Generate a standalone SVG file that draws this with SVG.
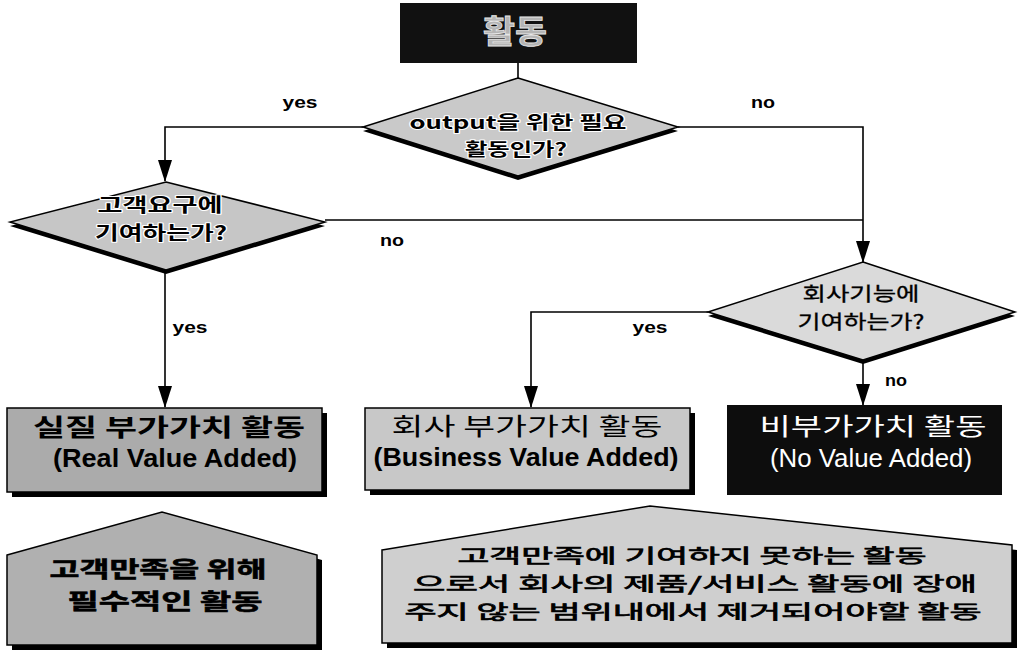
<svg xmlns="http://www.w3.org/2000/svg" width="1020" height="652" viewBox="0 0 1020 652">
<defs>
<style>
.ko{font-family:"Noto Sans CJK KR","Noto Sans",sans-serif;dominant-baseline:central;text-anchor:middle}
.lat{font-family:"Liberation Sans",Arial,sans-serif;text-anchor:middle}
.lbl{font-family:"Liberation Sans",Arial,sans-serif;font-size:17px;font-weight:bold;text-anchor:middle;fill:#000}
.edge{stroke:#000;stroke-width:1.6;fill:none}
.shape{stroke:#000;stroke-width:1.5}
.halo{stroke:#fff;stroke-width:2;paint-order:stroke;stroke-linejoin:round}
</style>
<marker id="arr" markerWidth="22" markerHeight="14" refX="21" refY="7" orient="auto" markerUnits="userSpaceOnUse">
<path d="M0,0 L22,7 L0,14 z" fill="#000"/>
</marker>
</defs>
<rect width="1020" height="652" fill="#fff"/>

<g id="connectors">
<line class="edge" x1="518" y1="63" x2="518" y2="79"/>
<polyline class="edge" points="363,127 165,127 165,181" marker-end="url(#arr)"/>
<polyline class="edge" points="678,127 863,127 863,262" marker-end="url(#arr)"/>
<line class="edge" x1="325" y1="220" x2="863" y2="220"/>
<line class="edge" x1="165" y1="270" x2="165" y2="407" marker-end="url(#arr)"/>
<polyline class="edge" points="708,312 531,312 531,407" marker-end="url(#arr)"/>
<line class="edge" x1="863" y1="360" x2="863" y2="405" marker-end="url(#arr)"/>
<text class="lbl" x="300" y="108" textLength="35" lengthAdjust="spacingAndGlyphs">yes</text>
<text class="lbl" x="763" y="108" textLength="24" lengthAdjust="spacingAndGlyphs">no</text>
<text class="lbl" x="392" y="246" textLength="24" lengthAdjust="spacingAndGlyphs">no</text>
<text class="lbl" x="190" y="333" textLength="35" lengthAdjust="spacingAndGlyphs">yes</text>
<text class="lbl" x="650" y="333" textLength="35" lengthAdjust="spacingAndGlyphs">yes</text>
<text class="lbl" x="896" y="386" textLength="22" lengthAdjust="spacingAndGlyphs">no</text>
</g>

<g id="node-start">
<rect x="400" y="3" width="237" height="60" fill="#111"/>
<text class="ko" x="515" y="29" font-size="32" font-weight="bold" fill="#b4b4b4" stroke="#e6e6e6" stroke-width="0.8" textLength="64" lengthAdjust="spacingAndGlyphs">활동</text>
</g>

<g id="node-q1">
<polygon points="518,82 678,131 518,180 363,131" fill="#000"/>
<polygon class="shape" points="518,78 678,127 518,176 363,127" fill="#c9c9c9"/>
<text class="ko halo" x="518" y="121" font-size="18" font-weight="bold" fill="#000" textLength="217" lengthAdjust="spacingAndGlyphs">output을 위한 필요</text>
<text class="ko halo" x="516" y="148" font-size="18" font-weight="bold" fill="#000" textLength="102" lengthAdjust="spacingAndGlyphs">활동인가?</text>
</g>

<g id="node-q2">
<polygon points="166,186 325,226 166,274 10,226" fill="#000"/>
<polygon class="shape" points="166,182 325,222 166,270 10,222" fill="#c6c6c6"/>
<text class="ko halo" x="160" y="203" font-size="19" font-weight="bold" fill="#000" textLength="125" lengthAdjust="spacingAndGlyphs">고객요구에</text>
<text class="ko halo" x="161" y="231" font-size="19" font-weight="bold" fill="#000" textLength="132" lengthAdjust="spacingAndGlyphs">기여하는가?</text>
</g>

<g id="node-q3">
<polygon points="863,266 1015,316 863,364 708,316" fill="#000"/>
<polygon class="shape" points="863,262 1015,312 863,360 708,312" fill="#dadada"/>
<text class="ko" x="861" y="292" font-size="19" fill="#000" stroke="#000" stroke-width="0.3" textLength="117" lengthAdjust="spacingAndGlyphs">회사기능에</text>
<text class="ko" x="861" y="320" font-size="19" fill="#000" stroke="#000" stroke-width="0.3" textLength="127" lengthAdjust="spacingAndGlyphs">기여하는가?</text>
</g>

<g id="node-real">
<rect x="12" y="413" width="315" height="84" fill="#000"/>
<rect class="shape" x="7" y="408" width="315" height="84" fill="#ababab"/>
<text class="ko" x="169" y="425" font-size="24" font-weight="bold" fill="#000" textLength="272" lengthAdjust="spacingAndGlyphs">실질 부가가치 활동</text>
<text class="lat" x="175" y="467" font-size="26" font-weight="bold" fill="#000" textLength="244" lengthAdjust="spacingAndGlyphs">(Real Value Added)</text>
</g>

<g id="node-business">
<rect x="370" y="413" width="325" height="82" fill="#000"/>
<rect class="shape" x="365" y="408" width="325" height="82" fill="#c8c8c8"/>
<text class="ko" x="527" y="424" font-size="24" fill="#000" textLength="271" lengthAdjust="spacingAndGlyphs">회사 부가가치 활동</text>
<text class="lat" x="526" y="466" font-size="26" font-weight="bold" fill="#000" textLength="305" lengthAdjust="spacingAndGlyphs">(Business Value Added)</text>
</g>

<g id="node-none">
<rect x="727" y="405" width="275" height="90" fill="#0d0d0d"/>
<text class="ko" x="873" y="424" font-size="24" fill="#fff" textLength="227" lengthAdjust="spacingAndGlyphs">비부가가치 활동</text>
<text class="lat" x="871" y="467" font-size="25" fill="#fff" textLength="202" lengthAdjust="spacingAndGlyphs">(No Value Added)</text>
</g>

<g id="node-note1">
<polygon points="12,560 167,517 322,560 322,650 12,650" fill="#000"/>
<polygon class="shape" points="7,555 162,512 317,555 317,645 7,645" fill="#b0b0b0"/>
<text class="ko" x="158" y="567" font-size="22" font-weight="bold" fill="#000" stroke="#000" stroke-width="0.6" textLength="217" lengthAdjust="spacingAndGlyphs">고객만족을 위해</text>
<text class="ko" x="165" y="599" font-size="22" font-weight="bold" fill="#000" stroke="#000" stroke-width="0.6" textLength="195" lengthAdjust="spacingAndGlyphs">필수적인 활동</text>
</g>

<g id="node-note2">
<polygon points="387,555 655,511 1017,550 1017,648 387,648" fill="#000"/>
<polygon class="shape" points="382,550 650,506 1012,545 1012,643 382,643" fill="#cfcfcf"/>
<text class="ko" x="692" y="554" font-size="19" fill="#000" stroke="#000" stroke-width="0.7" textLength="469" lengthAdjust="spacingAndGlyphs">고객만족에 기여하지 못하는 활동</text>
<text class="ko" x="695" y="582" font-size="19" fill="#000" stroke="#000" stroke-width="0.7" textLength="564" lengthAdjust="spacingAndGlyphs">으로서 회사의 제품/서비스 활동에 장애</text>
<text class="ko" x="693" y="610" font-size="19" fill="#000" stroke="#000" stroke-width="0.7" textLength="577" lengthAdjust="spacingAndGlyphs">주지 않는 범위내에서 제거되어야할 활동</text>
</g>
</svg>
